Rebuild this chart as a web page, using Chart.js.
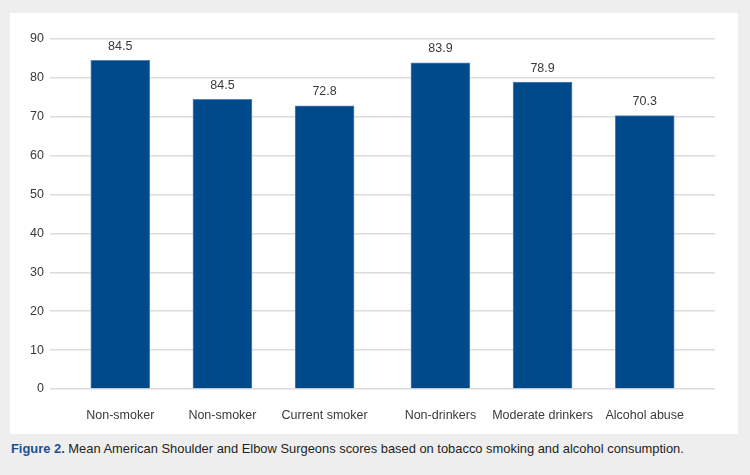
<!DOCTYPE html>
<html>
<head>
<meta charset="utf-8">
<script src="https://cdn.jsdelivr.net/npm/chart.js@4/dist/chart.umd.min.js"></script>
<style>
  html, body { margin: 0; padding: 0; }
  body { width: 750px; height: 475px; background: #efeeee; position: relative; overflow: hidden; font-family: "Liberation Sans", Arial, sans-serif; }
  #panel { position: absolute; left: 10px; top: 13px; width: 728px; height: 421px; background: #ffffff; }
  #caption { position: absolute; left: 11px; top: 441px; font-size: 12.9px; color: #231f20; white-space: nowrap; }
  #caption b { color: #1c4f94; }
</style>
</head>
<body>
<div id="panel"><canvas id="c" width="728" height="421"></canvas></div>
<div id="caption"><b>Figure 2.</b> Mean American Shoulder and Elbow Surgeons scores based on tobacco smoking and alcohol consumption.</div>
<script>
const categories = ["Non-smoker", "Non-smoker", "Current smoker", "Non-drinkers", "Moderate drinkers", "Alcohol abuse"];
const groups = [0, 0, 0, 1, 1, 1];
const values = [84.5, 74.5, 72.8, 83.9, 78.9, 70.3];
const valueLabels = ["84.5", "84.5", "72.8", "83.9", "78.9", "70.3"];
const yTicks = [0, 10, 20, 30, 40, 50, 60, 70, 80, 90];

const groupGap = 0.134;
const positions = categories.map((_, i) => i + groups[i] * groupGap);
const points = positions.map((p, i) => ({ x: p, y: values[i] }));

const labelPlugin = {
  id: 'valueLabels',
  afterDatasetsDraw(chart) {
    const ctx = chart.ctx;
    const meta = chart.getDatasetMeta(0);
    ctx.save();
    ctx.font = '12.5px "Liberation Sans", Arial, sans-serif';
    ctx.fillStyle = '#3a3a3a';
    ctx.textAlign = 'center';
    ctx.textBaseline = 'middle';
    meta.data.forEach((el, i) => {
      ctx.fillText(valueLabels[i], el.x, el.y - 14);
    });
    ctx.restore();
  }
};

new Chart(document.getElementById('c'), {
  type: 'bar',
  data: {
    datasets: [{
      data: points,
      backgroundColor: '#004a8c',
      borderColor: '#5584bb',
      borderWidth: 1,
      barThickness: 59
    }]
  },
  options: {
    responsive: false,
    animation: false,
    layout: { padding: { top: 26, right: 23, left: 0, bottom: 0 } },
    plugins: { legend: { display: false }, tooltip: { enabled: false } },
    scales: {
      x: {
        type: 'linear',
        offset: false,
        min: positions[0] - 0.688,
        max: positions[positions.length - 1] + 0.688,
        grid: { display: false },
        border: { display: false },
        afterBuildTicks(scale) { scale.ticks = positions.map(v => ({ value: v })); },
        afterFit(scale) { scale.height = 45; },
        ticks: {
          autoSkip: false,
          maxRotation: 0,
          padding: 11,
          color: '#3a3a3a',
          font: { family: '"Liberation Sans", Arial, sans-serif', size: 12.5 },
          callback(value) {
            const i = positions.findIndex(p => Math.abs(p - value) < 1e-6);
            return i >= 0 ? categories[i] : '';
          }
        }
      },
      y: {
        min: yTicks[0],
        max: yTicks[yTicks.length - 1],
        afterBuildTicks(scale) { scale.ticks = yTicks.map(v => ({ value: v })); },
        afterFit(scale) { scale.width = 40; },
        grid: { color: '#dcdcdc', lineWidth: 1.5, drawTicks: false },
        border: { display: false },
        ticks: {
          padding: 6,
          color: '#3a3a3a',
          font: { family: '"Liberation Sans", Arial, sans-serif', size: 12.5 }
        }
      }
    }
  },
  plugins: [labelPlugin]
});
</script>
</body>
</html>
